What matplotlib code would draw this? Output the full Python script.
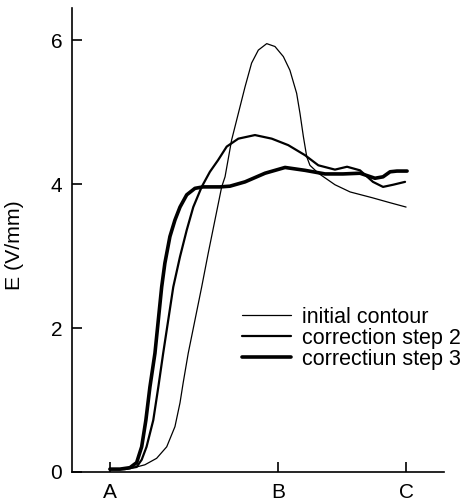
import matplotlib
matplotlib.use("Agg")
import matplotlib.pyplot as plt

# x in units where A=0, B=1
x_tick_pos = [0.0, 1.0, 1.762]
x_tick_labels = ["A", "B", "C"]
y_ticks = [0, 2, 4, 6]

init_x = [0.000, 0.089, 0.159, 0.208, 0.278, 0.338, 0.387, 0.417, 0.436, 0.466,
          0.506, 0.546, 0.585, 0.625, 0.665, 0.685, 0.724, 0.764, 0.804, 0.843,
          0.883, 0.933, 0.982, 1.032, 1.071, 1.111, 1.131, 1.151, 1.171, 1.190,
          1.240, 1.339, 1.429, 1.560, 1.667, 1.762]
init_y = [0.04, 0.04, 0.07, 0.10, 0.19, 0.35, 0.63, 0.96, 1.24, 1.65,
          2.11, 2.57, 3.04, 3.50, 3.96, 4.10, 4.61, 4.98, 5.35, 5.68,
          5.86, 5.95, 5.91, 5.77, 5.58, 5.26, 4.98, 4.66, 4.38, 4.26,
          4.15, 3.99, 3.89, 3.81, 3.74, 3.68]

step2_x = [0.000, 0.089, 0.159, 0.189, 0.218, 0.258, 0.288, 0.317, 0.347, 0.377,
           0.417, 0.457, 0.496, 0.546, 0.595, 0.643, 0.695, 0.764, 0.863, 0.963,
           1.061, 1.161, 1.240, 1.339, 1.411, 1.488, 1.565, 1.625, 1.685, 1.756]
step2_y = [0.04, 0.04, 0.07, 0.17, 0.35, 0.72, 1.18, 1.65, 2.11, 2.57,
           2.99, 3.36, 3.68, 3.96, 4.17, 4.33, 4.52, 4.63, 4.68, 4.63,
           4.54, 4.40, 4.26, 4.20, 4.24, 4.19, 4.03, 3.96, 3.99, 4.03]

step3_x = [0.000, 0.060, 0.119, 0.159, 0.189, 0.214, 0.238, 0.268, 0.288, 0.308,
           0.327, 0.357, 0.387, 0.417, 0.457, 0.506, 0.554, 0.655, 0.714, 0.804,
           0.923, 1.042, 1.161, 1.280, 1.387, 1.488, 1.577, 1.625, 1.667, 1.708,
           1.768]
step3_y = [0.04, 0.04, 0.06, 0.13, 0.35, 0.72, 1.18, 1.65, 2.11, 2.57,
           2.90, 3.27, 3.50, 3.68, 3.85, 3.94, 3.96, 3.96, 3.97, 4.03,
           4.15, 4.23, 4.19, 4.14, 4.14, 4.15, 4.08, 4.10, 4.17, 4.18,
           4.18]

labels = ["initial contour", "correction step 2", "correctiun step 3"]

plt.rcParams['font.family'] = ['Liberation Sans', 'DejaVu Sans']

fig = plt.figure(figsize=(4.64, 5.01), dpi=100)
ax = fig.add_axes([0.155, 0.0579, 0.802, 0.926])

kw = dict(color="black", solid_joinstyle="round", solid_capstyle="round")
ax.plot(init_x, init_y, lw=0.9, label=labels[0], **kw)
ax.plot(step2_x, step2_y, lw=1.6, label=labels[1], **kw)
ax.plot(step3_x, step3_y, lw=2.6, label=labels[2], **kw)

ax.set_xlim(-0.226, 1.988)
ax.set_ylim(0, 6.444)
ax.set_xticks(x_tick_pos)
ax.set_xticklabels(x_tick_labels)
ax.set_yticks(y_ticks)
ax.tick_params(direction="in", length=7, width=1.2, labelsize=15, pad=7)
ax.tick_params(axis="x", pad=8)
for s in ["top", "right"]:
    ax.spines[s].set_visible(False)
for s in ["left", "bottom"]:
    ax.spines[s].set_linewidth(1.2)

ax.set_ylabel("E (V/mm)", fontsize=15.3)
ax.yaxis.set_label_coords(-0.13, 0.489)

leg = ax.legend(loc="upper left", bbox_to_anchor=(0.457, 0.356), frameon=False,
                fontsize=15.5, handlelength=2.28, handletextpad=0.51,
                labelspacing=0.0, borderpad=0, borderaxespad=0)

fig.savefig("out.png", dpi=100)
